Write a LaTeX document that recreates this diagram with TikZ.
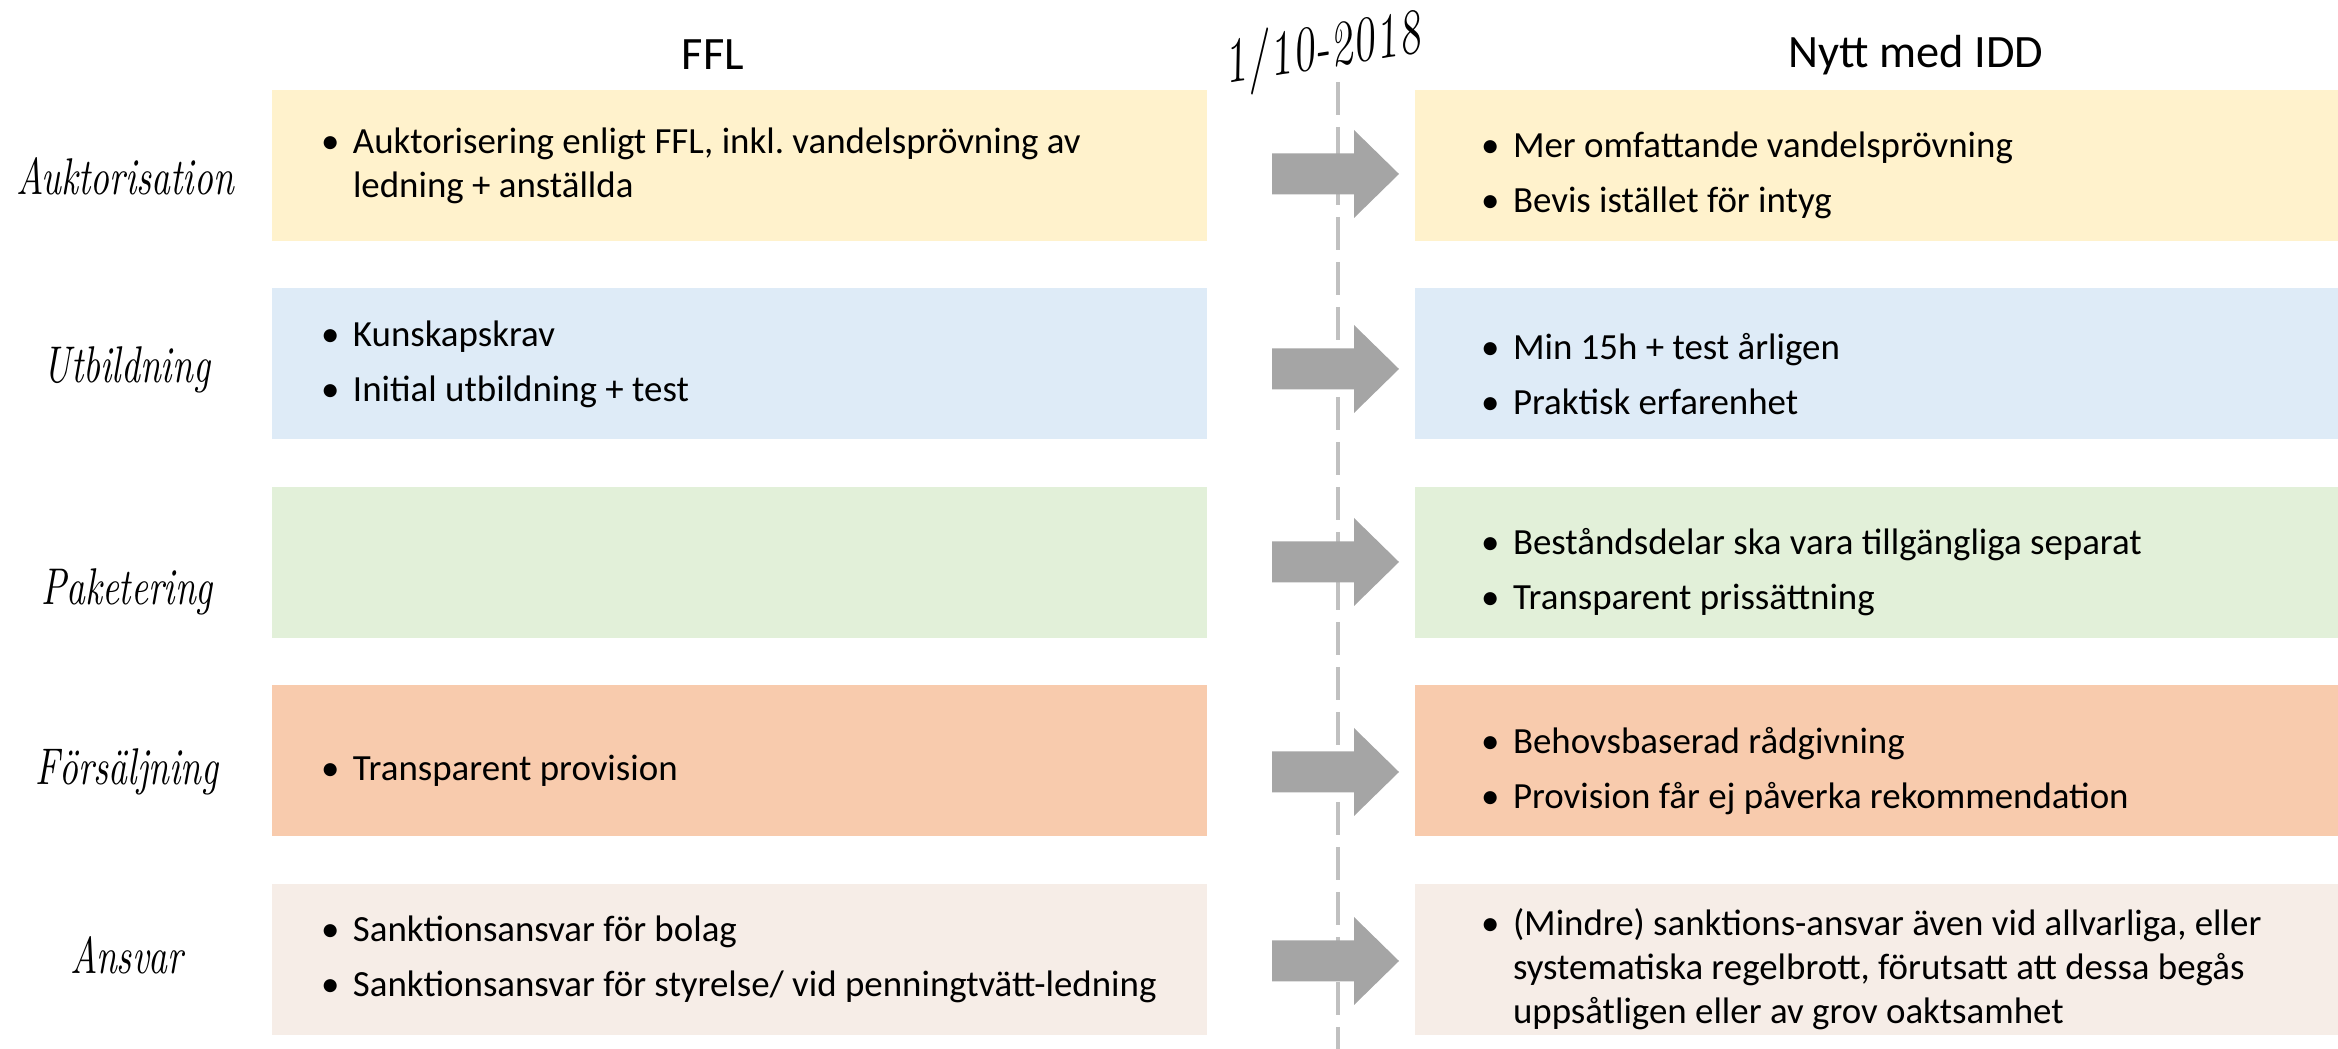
\documentclass[tikz,border=0pt]{standalone}
\usepackage{fontspec}
\setmainfont{Carlito}
\usepackage{tikz}
\usetikzlibrary{positioning}

\definecolor{aukfill}{HTML}{FFF2CC}
\definecolor{utbfill}{HTML}{DEEBF7}
\definecolor{pakfill}{HTML}{E2F0D9}
\definecolor{forfill}{HTML}{F8CBAD}
\definecolor{ansfill}{HTML}{F6EDE7}
\definecolor{arrowgray}{HTML}{A5A5A5}
\definecolor{linegray}{HTML}{C0C0C0}

\newlength{\bulind}\setlength{\bulind}{0.32cm}
\newcommand{\bul}[1]{\par\hangindent=\bulind\hangafter=1\noindent\makebox[\bulind][l]{\textbullet}#1\setlength{\parskip}{0.11cm}}
\newcommand{\sunk}[1]{\raisebox{-0.1cm}[\height][\depth]{#1}}
\newcommand{\fflitems}[1]{\hspace*{0.49cm}\parbox[c]{8.86cm}{\frenchspacing #1}}
\newcommand{\idditems}[1]{\sunk{\hspace*{0.66cm}\parbox[c]{8.57cm}{\frenchspacing #1}}}
\newcommand{\hand}{\fontfamily{lmr}\fontshape{it}\selectfont}
\newcommand{\handtext}[1]{\scalebox{1}[1.4]{#1}}
\newcommand{\bodyfont}{\fontsize{10.5pt}{12.5pt}\selectfont}

\tikzset{box/.style={anchor=north west,minimum height=1.51cm,inner sep=0pt,outer sep=0pt,font=\bodyfont},
  fflbox/.style={box,minimum width=9.35cm},
  iddbox/.style={box,minimum width=9.23cm},
  rowlabel/.style={font=\hand\fontsize{10.5pt}{12pt}\selectfont},
  datelabel/.style={font=\hand\fontsize{13pt}{15pt}\selectfont,rotate=9},
  heading/.style={font=\fontsize{13.2pt}{16pt}\selectfont},
  cutline/.style={draw=linegray,line width=0.04cm,dash pattern=on 0.33cm off 0.12cm},
  shiftarrow/.style={fill=arrowgray}}

\begin{document}
\begin{tikzpicture}
    \useasboundingbox (0,0) rectangle (23.38,-10.49);

    \node[heading] (fflhead) at (7.13,-0.55) {FFL};
    \node[heading] (iddhead) at (19.16,-0.55) {Nytt med IDD};
    \node[datelabel] (date) at (13.22,-0.52) {\handtext{1/10-2018}};

    \node[fflbox, fill=aukfill] (ffl1) at (2.72,-0.90) {\fflitems{\bul{Auktorisering enligt FFL, inkl. vandelsprövning av\newline ledning + anställda}}};
    \node[fflbox, fill=utbfill, below=0.475cm of ffl1] (ffl2) {\fflitems{\bul{Kunskapskrav}\bul{Initial utbildning + test}}};
    \node[fflbox, fill=pakfill, below=0.475cm of ffl2] (ffl3) {};
    \node[fflbox, fill=forfill, below=0.475cm of ffl3] (ffl4) {\sunk{\fflitems{\bul{Transparent provision}}}};
    \node[fflbox, fill=ansfill, below=0.475cm of ffl4] (ffl5) {\fflitems{\bul{Sanktionsansvar för bolag}\bul{Sanktionsansvar för styrelse/ vid penningtvätt-ledning}}};

    \node[iddbox, fill=aukfill, right=2.08cm of ffl1] (idd1) {\idditems{\bul{Mer omfattande vandelsprövning}\bul{Bevis istället för intyg}}};
    \node[iddbox, fill=utbfill, right=2.08cm of ffl2] (idd2) {\idditems{\bul{Min 15h + test årligen}\bul{Praktisk erfarenhet}}};
    \node[iddbox, fill=pakfill, right=2.08cm of ffl3] (idd3) {\idditems{\bul{Beståndsdelar ska vara tillgängliga separat}\bul{Transparent prissättning}}};
    \node[iddbox, fill=forfill, right=2.08cm of ffl4] (idd4) {\idditems{\bul{Behovsbaserad rådgivning}\bul{Provision får ej påverka rekommendation}}};
    \node[iddbox, fill=ansfill, right=2.08cm of ffl5] (idd5) {\idditems{\bul{(Mindre) sanktions-ansvar även vid allvarliga, eller\newline systematiska regelbrott, förutsatt att dessa begås\newline uppsåtligen eller av grov oaktsamhet}}};

    \node[rowlabel] (lab1) at (1.25,-1.76) {\handtext{Auktorisation}};
    \node[rowlabel] (lab2) at (1.27,-3.70) {\handtext{Utbildning}};
    \node[rowlabel] (lab3) at (1.27,-5.92) {\handtext{Paketering}};
    \node[rowlabel] (lab4) at (1.27,-7.72) {\handtext{Försäljning}};
    \node[rowlabel] (lab5) at (1.27,-9.55) {\handtext{Ansvar}};

    % date line, under the arrows
    \coordinate (cuttop) at (13.38,-0.82);
    \coordinate (cutbot) at (13.38,-10.49);
    \draw[cutline] (cuttop) -- (cutbot);

    \coordinate (a1) at (12.72,-1.74);
    \coordinate (a2) at (12.72,-3.69);
    \coordinate (a3) at (12.72,-5.62);
    \coordinate (a4) at (12.72,-7.72);
    \coordinate (a5) at (12.72,-9.61);
    \fill[shiftarrow] (a1) ++(0,0.205) -- ++(0.82,0) -- ++(0,0.235) -- ++(0.45,-0.44) -- ++(-0.45,-0.44) -- ++(0,0.235) -- ++(-0.82,0) -- cycle;
    \fill[shiftarrow] (a2) ++(0,0.205) -- ++(0.82,0) -- ++(0,0.235) -- ++(0.45,-0.44) -- ++(-0.45,-0.44) -- ++(0,0.235) -- ++(-0.82,0) -- cycle;
    \fill[shiftarrow] (a3) ++(0,0.205) -- ++(0.82,0) -- ++(0,0.235) -- ++(0.45,-0.44) -- ++(-0.45,-0.44) -- ++(0,0.235) -- ++(-0.82,0) -- cycle;
    \fill[shiftarrow] (a4) ++(0,0.205) -- ++(0.82,0) -- ++(0,0.235) -- ++(0.45,-0.44) -- ++(-0.45,-0.44) -- ++(0,0.235) -- ++(-0.82,0) -- cycle;
    \fill[shiftarrow] (a5) ++(0,0.205) -- ++(0.82,0) -- ++(0,0.235) -- ++(0.45,-0.44) -- ++(-0.45,-0.44) -- ++(0,0.235) -- ++(-0.82,0) -- cycle;
\end{tikzpicture}
\end{document}
